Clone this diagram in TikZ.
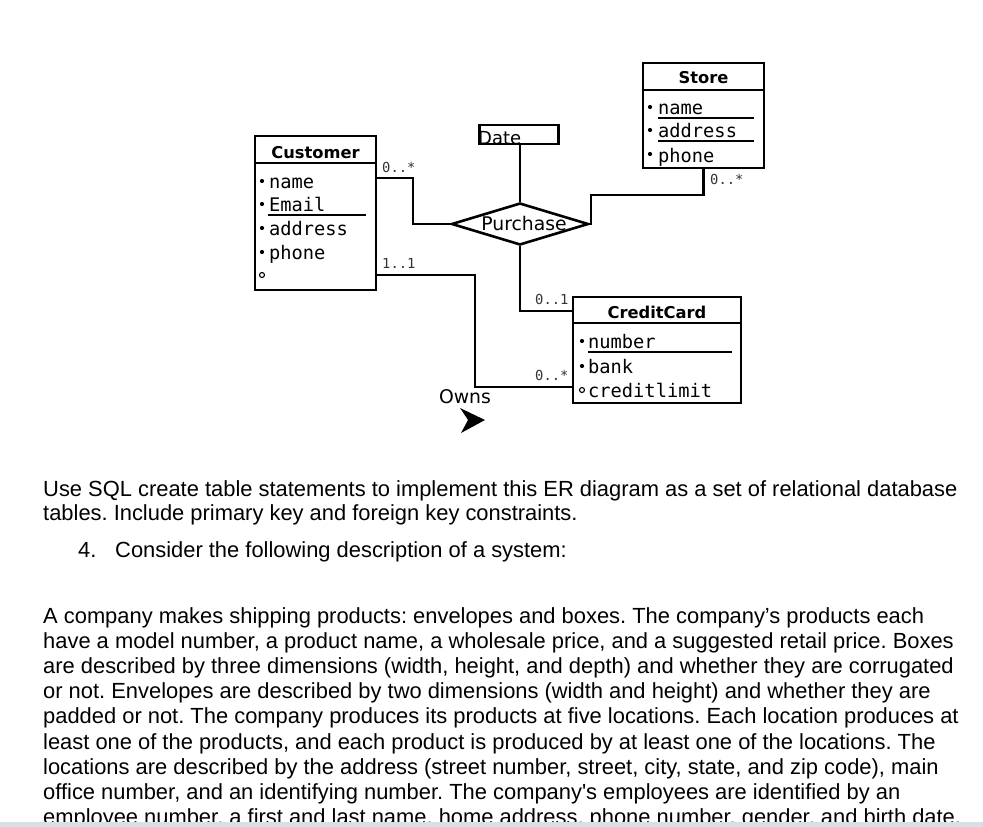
\documentclass[tikz,border=0pt]{standalone}
\usepackage{fontspec}
\usetikzlibrary{shapes.geometric}
\setmainfont{Liberation Sans}
\newfontfamily\dvs{DejaVu Sans}
\newfontfamily\dvm{DejaVu Sans Mono}
\definecolor{band}{RGB}{214,224,229}
\begin{document}
\frenchspacing
\begin{tikzpicture}[x=1pt,y=-1pt,
  box/.style={draw, line width=2.6pt, rectangle, inner sep=0pt},
  ttl/.style={font=\dvs\bfseries\fontsize{16.3}{16.3}\selectfont, anchor=base, inner sep=0pt},
  attr/.style={font=\dvm\fontsize{18.7}{18.7}\selectfont, anchor=base west, inner sep=0pt},
  mult/.style={font=\dvm\fontsize{13.8}{13.8}\selectfont, anchor=base west, inner sep=0pt, text=black!80},
  lbl/.style={font=\dvs\fontsize{18.8}{18.8}\selectfont, anchor=base, inner sep=0pt},
  txt/.style={font=\fontsize{21.9}{21.9}\selectfont, anchor=base west, inner sep=0pt},
  conn/.style={line width=2.6pt},
  sep/.style={line width=2.6pt},
  uline/.style={line width=1.4pt}]
\useasboundingbox[fill=white] (0,0) rectangle (983,827);

% ---------- Customer ----------
\node[box, minimum width=121pt, minimum height=154pt] (cust) at (315.5,213) {};
\draw[sep] (cust.west |- 0,163) -- (cust.east |- 0,163);
\node[ttl] (custT) at (315.5,158) {Customer};
\node[attr] (c1) at (269,188) {name};
\node[attr] (c2) at (269,211) {Email};
\draw[uline] (268,215) -- (366,215);
\node[attr] (c3) at (269,235) {address};
\node[attr] (c4) at (269,259) {phone};
\foreach \y in {181,204,228,252} \fill (262,\y) circle (2.1);
\draw[line width=1.1pt] (262,275) circle (2.5);

% ---------- Store ----------
\node[box, minimum width=121pt, minimum height=105pt] (store) at (703.5,115.5) {};
\draw[sep] (store.west |- 0,90) -- (store.east |- 0,90);
\node[ttl] (storeT) at (703.5,83) {Store};
\node[attr] (s1) at (658,114) {name};
\draw[uline] (658,118) -- (754,118);
\node[attr] (s2) at (658,137) {address};
\draw[uline] (658,141) -- (754,141);
\node[attr] (s3) at (658,162) {phone};
\foreach \y in {107,130,154} \fill (650,\y) circle (2.1);

% ---------- CreditCard ----------
\node[box, minimum width=168pt, minimum height=106pt] (cc) at (657,350) {};
\draw[sep] (cc.west |- 0,323) -- (cc.east |- 0,323);
\node[ttl] (ccT) at (657,318) {CreditCard};
\node[attr] (k1) at (588,348) {number};
\draw[uline] (588,352) -- (732,352);
\node[attr] (k2) at (588,373) {bank};
\node[attr] (k3) at (588,397) {creditlimit};
\foreach \y in {341,366} \fill (582,\y) circle (2.1);
\draw[line width=1.1pt] (582,390) circle (2.5);

% ---------- Date ----------
\node[box, minimum width=79pt, minimum height=19pt] (date) at (519,134.5) {};
\node[lbl, font=\dvs\fontsize{18}{18}\selectfont, anchor=base west] (dateT) at (478,144) {Date};

% ---------- Purchase ----------
\node[draw, line width=2.6pt, shape=diamond, aspect=3.26, minimum width=137pt, minimum height=42pt, inner sep=0pt] (pur) at (520,224) {};
\node[lbl] (purT) at (524,230) {Purchase};

% ---------- connectors ----------
\draw[conn] (date.south -| pur.north) -- (pur.north);
\draw[conn] (cust.east |- 0,178) -- (413,178) |- (pur.west);
\draw[conn] (store.south) |- (591,195) |- (pur.east);
\draw[conn] (pur.south) |- (cc.west |- 0,311);
\draw[conn] (cust.east |- 0,275) -- (475,275) |- (cc.west |- 0,387);

\node[mult] (m1) at (382,172) {0..*};
\node[mult] (m2) at (382,268) {1..1};
\node[mult] (m3) at (710,184) {0..*};
\node[mult] (m4) at (535,304) {0..1};
\node[mult] (m5) at (535,380) {0..*};

% ---------- Owns ----------
\node[lbl] (owns) at (465,403) {Owns};
\fill (485,420) -- (460,408) -- (468,420) -- (461,433) -- cycle;

% ---------- text ----------
\node[txt] (t1) at (43,496) {Use SQL create table statements to implement this ER diagram as a set of relational database};
\node[txt] (t2) at (43,520) {tables. Include primary key and foreign key constraints.};
\node[txt] (t3) at (78,557) {4.};
\node[txt] (t4) at (115,557) {Consider the following description of a system:};

\begin{scope}
\clip (0,0) rectangle (983,822);
\node[txt] (p1) at (43,623) {A company makes shipping products: envelopes and boxes. The company’s products each};
\node[txt] (p2) at (43,648) {have a model number, a product name, a wholesale price, and a suggested retail price. Boxes};
\node[txt] (p3) at (43,673) {are described by three dimensions (width, height, and depth) and whether they are corrugated};
\node[txt] (p4) at (43,698) {or not. Envelopes are described by two dimensions (width and height) and whether they are};
\node[txt] (p5) at (43,723) {padded or not. The company produces its products at five locations. Each location produces at};
\node[txt] (p6) at (43,749) {least one of the products, and each product is produced by at least one of the locations. The};
\node[txt] (p7) at (43,774) {locations are described by the address (street number, street, city, state, and zip code), main};
\node[txt] (p8) at (43,799) {office number, and an identifying number. The company\textquotesingle s employees are identified by an};
\node[txt] (p9) at (43,824) {employee number, a first and last name, home address, phone number, gender, and birth date.};
\end{scope}
\fill[band] (0,822) rectangle (983,827);
\end{tikzpicture}
\end{document}
